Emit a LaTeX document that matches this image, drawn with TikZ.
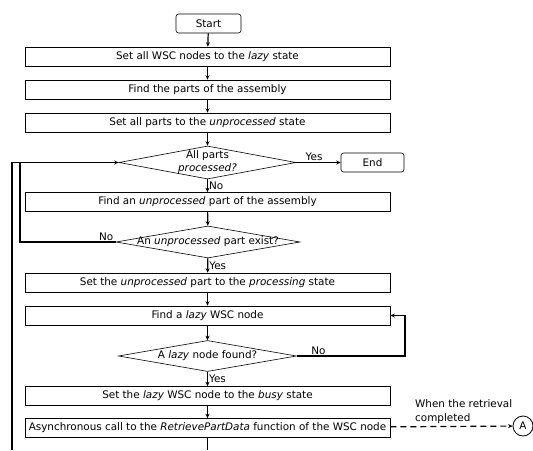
\documentclass[tikz,border=0pt]{standalone}
\usepackage{fontspec}
\setmainfont{DejaVu Sans}
\usetikzlibrary{shapes.geometric, arrows.meta}
\tikzstyle{proc}=[draw, line width=.6pt, minimum width=365pt, minimum height=19pt, inner sep=0pt, font=\fontsize{10.4}{12}\selectfont]
\tikzstyle{term}=[draw, line width=.6pt, rounded corners=2.5pt, minimum height=19pt, inner sep=0pt, font=\fontsize{10.4}{12}\selectfont]
\tikzstyle{decide}=[draw, diamond, line width=.6pt, inner sep=0pt, font=\fontsize{10.4}{15}\selectfont]
\tikzstyle{flow}=[line width=1.2pt, -{Stealth[length=4.5pt, width=4pt]}]
\tikzstyle{loopline}=[line width=1.7pt]
\tikzstyle{lbl}=[font=\fontsize{10.4}{12}\selectfont, inner sep=1pt]

\begin{document}
\begin{tikzpicture}[x=1pt, y=-1pt]
  \useasboundingbox (0,0) rectangle (533,450);
  % main column
  \node[term, minimum width=65pt] (start) at (208.5,23.5) {Start};
  \node[proc] (setlazy) at (207.5,56.5) {Set all WSC nodes to the \textit{lazy} state};
  \node[proc] (findparts) at (207.5,89.5) {Find the parts of the assembly};
  \node[proc] (setparts) at (207.5,122.5) {Set all parts to the \textit{unprocessed} state};
  \node[decide, minimum width=177pt, minimum height=33pt] (alldone) at (207.5,162.5)
    {\makebox[0pt]{\shortstack{All parts\\\textit{processed?}}}};
  \node[term, minimum width=63pt] (stop) at (372.5,162.5) {End};
  \node[proc] (findone) at (207.5,202) {Find an \textit{unprocessed} part of the assembly};
  \node[decide, minimum width=184pt, minimum height=32pt] (exist) at (208,242)
    {\makebox[0pt]{An \textit{unprocessed} part exist?}};
  \node[proc] (setproc) at (207.5,282.5) {Set the \textit{unprocessed} part to the \textit{processing} state};
  \node[proc] (findlazy) at (207.5,315.5) {Find a \textit{lazy} WSC node};
  \node[decide, minimum width=178pt, minimum height=31pt] (found) at (207.5,356)
    {\makebox[0pt]{A \textit{lazy} node found?}};
  \node[proc] (setbusy) at (207.5,396) {Set the \textit{lazy} WSC node to the \textit{busy} state};
  \node[proc] (call) at (207.5,428) {Asynchronous call to the \textit{RetrievePartData} function of the WSC node};
  \node[circle, draw, line width=.8pt, minimum size=20pt, inner sep=0pt, lbl] (conA) at (523,426) {A};
  \node[lbl, align=left, anchor=west, inner sep=0pt, font=\fontsize{10.4}{14}\selectfont] (note) at (415,412)
    {When the retrieval\\completed};
  \coordinate (back) at (20,162.5);
  \coordinate (outer) at (12,450);
  \coordinate (cont) at (207.5,450);
  \coordinate (right) at (405,356);

  % connectors
  \draw[flow] (start) -- (setlazy);
  \draw[flow] (setlazy) -- (findparts);
  \draw[flow] (findparts) -- (setparts);
  \draw[flow] (setparts) -- (alldone);
  \draw[flow] (alldone) -- node[lbl, above, pos=.4] {Yes} (stop);
  \draw[flow] (alldone) -- node[lbl, right] {No} (findone);
  \draw[flow] (findone) -- (exist);
  \draw[flow] (exist) -- node[lbl, right] {Yes} (setproc);
  \draw[flow] (setproc) -- (findlazy);
  \draw[flow] (findlazy) -- (found);
  \draw[flow] (found) -- node[lbl, right] {Yes} (setbusy);
  \draw[flow] (setbusy) -- (call);
  \draw[line width=1.2pt] (call) -- (cont);
  \draw[flow, dashed, dash pattern=on 6pt off 4pt] (call) -- (conA);

  % loops
  \draw[loopline] (exist.west) -- node[lbl, above, pos=.1] {No} (exist.west -| back) -- (back);
  \draw[loopline] (outer) |- (back);
  \draw[flow, line width=1.7pt] (back) -- (alldone.west);
  \draw[loopline] (found.east) -- node[lbl, above, pos=.2] {No} (right) |- (findlazy.east);
  \draw[flow] (right |- findlazy.east) -- (findlazy.east);
\end{tikzpicture}
\end{document}
